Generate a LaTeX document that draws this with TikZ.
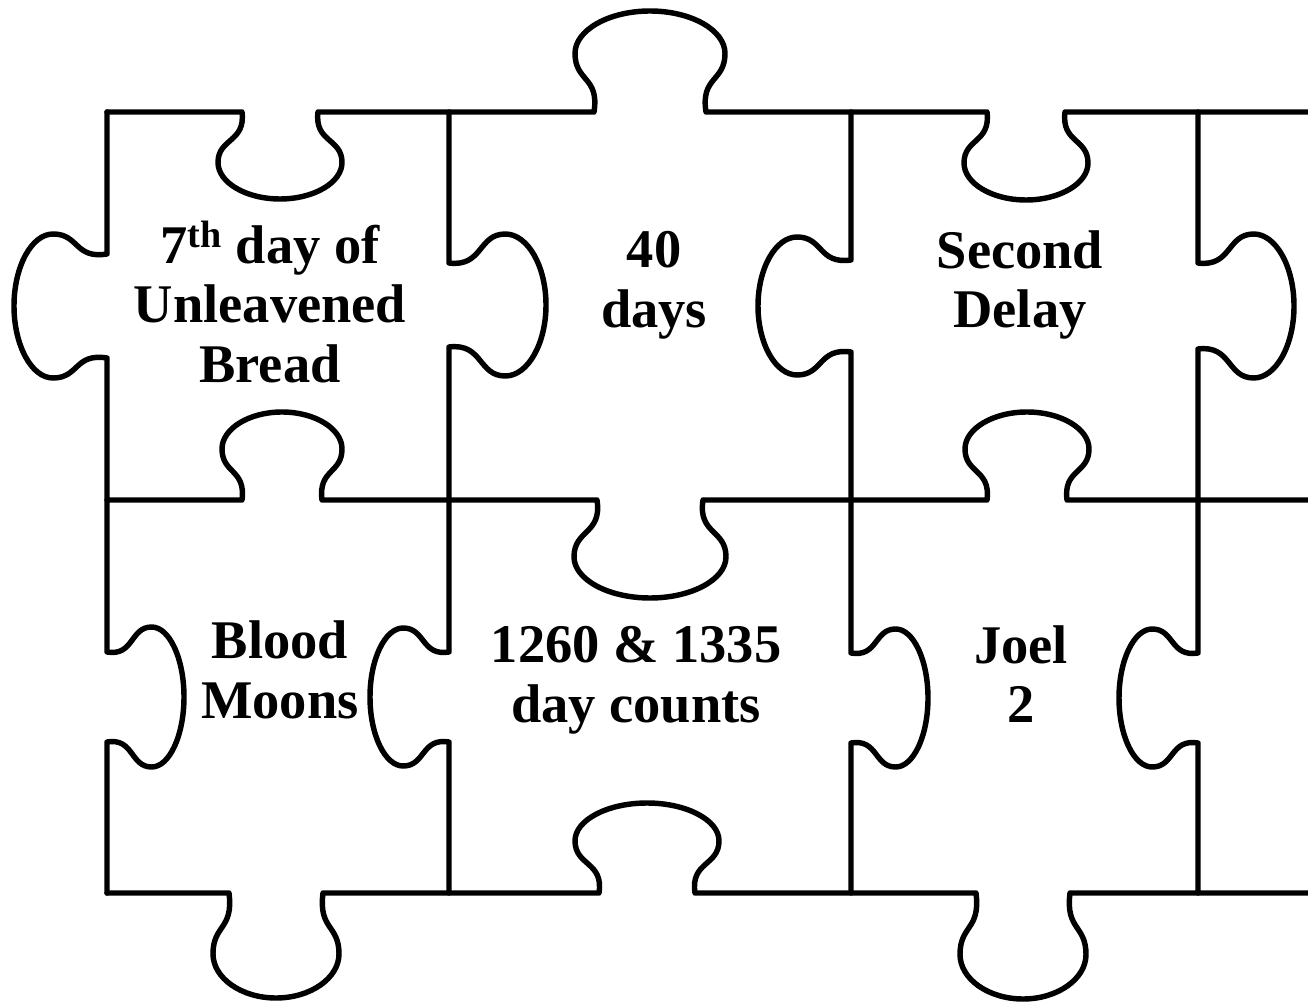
\documentclass[tikz,border=0pt]{standalone}
\usepackage{fontspec}
\setmainfont{Liberation Serif}

% knob on a horizontal cut: centre x, cut y, side (+1 down, -1 up), neck, bulb, depth
\newcommand{\hknob}[6]{%
  -- ({#1-#4},#2)
  .. controls ({#1-0.9*#4},{#2+0.35*(#3)*#6}) and ({#1-#5},{#2+0.3*(#3)*#6}) .. ({#1-#5},{#2+0.58*(#3)*#6})
  .. controls ({#1-#5},{#2+0.81*(#3)*#6}) and ({#1-0.55*#5},{#2+(#3)*#6}) .. (#1,{#2+(#3)*#6})
  .. controls ({#1+0.55*#5},{#2+(#3)*#6}) and ({#1+#5},{#2+0.81*(#3)*#6}) .. ({#1+#5},{#2+0.58*(#3)*#6})
  .. controls ({#1+#5},{#2+0.3*(#3)*#6}) and ({#1+0.9*#4},{#2+0.35*(#3)*#6}) .. ({#1+#4},#2)}
% knob on a vertical cut: centre y, cut x, side (+1 right, -1 left), neck, bulb, depth
\newcommand{\vknob}[6]{%
  -- (#2,{#1-#4})
  .. controls ({#2+0.35*(#3)*#6},{#1-0.9*#4}) and ({#2+0.3*(#3)*#6},{#1-#5}) .. ({#2+0.58*(#3)*#6},{#1-#5})
  .. controls ({#2+0.81*(#3)*#6},{#1-#5}) and ({#2+(#3)*#6},{#1-0.55*#5}) .. ({#2+(#3)*#6},#1)
  .. controls ({#2+(#3)*#6},{#1+0.55*#5}) and ({#2+0.81*(#3)*#6},{#1+#5}) .. ({#2+0.58*(#3)*#6},{#1+#5})
  .. controls ({#2+0.3*(#3)*#6},{#1+#5}) and ({#2+0.35*(#3)*#6},{#1+0.9*#4}) .. (#2,{#1+#4})}

\begin{document}
\begin{tikzpicture}[x=0.02cm,y=-0.02cm,
cut/.style={
% the cut lines:
draw=black,
line width=3.1pt,
line join=round,
line cap=round
},
piecetext/.style={
align=center,
inner sep=0pt,
font=\fontsize{31pt}{34pt}\selectfont\bfseries
}
]
\useasboundingbox (0,0) rectangle (1308,1006);
% horizontal cuts
\draw[cut] (107,112) \hknob{280}{112}{1}{38}{62}{87} \hknob{650}{112}{-1}{56}{75}{101} \hknob{1026}{112}{1}{39}{62}{88} -- (1312,112);
\draw[cut] (107,500) \hknob{282}{500}{-1}{40}{60}{88} \hknob{650}{500}{1}{53}{76}{98} \hknob{1027}{500}{-1}{40}{62}{88} -- (1312,500);
\draw[cut] (107,893) \hknob{276}{893}{1}{47}{63}{105} \hknob{647}{893}{-1}{48}{72}{90} \hknob{1023}{893}{1}{47}{63}{106} -- (1312,893);
% vertical cuts
\draw[cut] (107,112) \vknob{306}{107}{-1}{52}{72}{93} \vknob{697}{107}{1}{45}{70}{77} -- (107,893);
\draw[cut] (449,112) \vknob{305}{449}{1}{42}{71}{97} \vknob{697}{449}{-1}{45}{69}{79} -- (449,893);
\draw[cut] (851,112) \vknob{306}{851}{-1}{46}{69}{93} \vknob{698}{851}{1}{45}{69}{77} -- (851,893);
\draw[cut] (1198,112) \vknob{306}{1198}{1}{43}{72}{96} \vknob{698}{1198}{-1}{45}{69}{79} -- (1198,893);
% texts
\node (unleavened) [piecetext] at (270,302) {7\textsuperscript{th} day of\\Unleavened\\Bread};
\node (forty) [piecetext] at (654,285) {40\\days};
\node (delay) [piecetext] at (1020,285) {Second\\Delay};
\node (moons) [piecetext] at (280,670) {Blood\\Moons};
\node (counts) [piecetext] at (636,680) {1260 \& 1335\\day counts};
\node (joel) [piecetext] at (1021,674) {Joel\\2};
\end{tikzpicture}
\end{document}
